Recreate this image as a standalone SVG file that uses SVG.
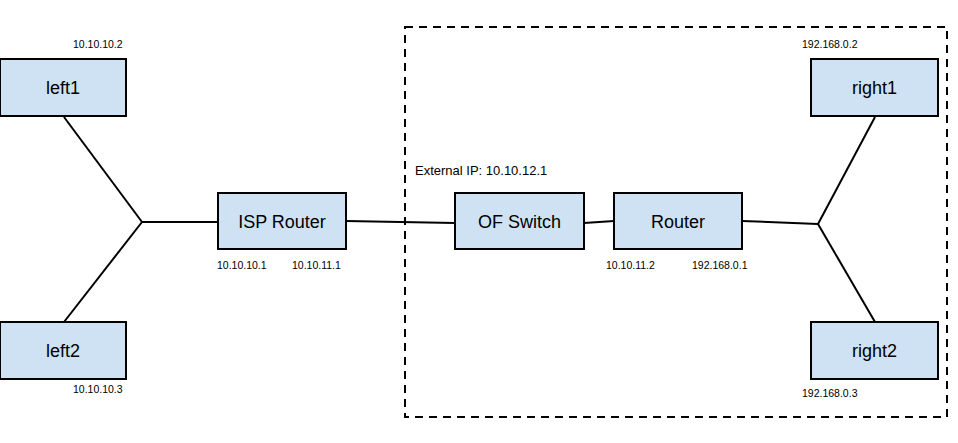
<svg xmlns="http://www.w3.org/2000/svg" width="958" height="443" viewBox="0 0 958 443">
<style>
.node{fill:#cfe2f3;stroke:#000;stroke-width:2}
.lbl{font-family:"Liberation Sans",Arial,sans-serif;font-size:18px;fill:#000;text-anchor:middle}
.ip{font-family:"Liberation Sans",Arial,sans-serif;font-size:10.5px;fill:#000}
.ext{font-family:"Liberation Sans",Arial,sans-serif;font-size:13px;fill:#000}
.conn line{stroke:#000;stroke-width:2}
</style>
<rect width="958" height="443" fill="#fff"/>
<rect x="405" y="27" width="542" height="390" fill="none" stroke="#000" stroke-width="2" stroke-dasharray="8,6"/>
<text class="ext" x="415" y="175">External IP: 10.10.12.1</text>
<g class="conn">
<line x1="64" y1="117" x2="142" y2="222"/>
<line x1="64" y1="322" x2="142" y2="222"/>
<line x1="142" y1="222" x2="218" y2="222"/>
<line x1="346" y1="221" x2="455" y2="223"/>
<line x1="584" y1="223" x2="614" y2="221"/>
<line x1="742" y1="221" x2="818" y2="224"/>
<line x1="875" y1="117" x2="818" y2="224"/>
<line x1="875" y1="322" x2="818" y2="224"/>
</g>
<g id="left1"><rect class="node" x="0" y="59" width="126" height="57"/><text class="lbl" x="63" y="94">left1</text><text class="ip" x="73" y="48">10.10.10.2</text></g>
<g id="left2"><rect class="node" x="0" y="322" width="126" height="57"/><text class="lbl" x="63" y="357">left2</text><text class="ip" x="73" y="393">10.10.10.3</text></g>
<g id="isp"><rect class="node" x="218" y="193" width="128" height="56"/><text class="lbl" x="282" y="228">ISP Router</text><text class="ip" x="217" y="269">10.10.10.1</text><text class="ip" x="292" y="269">10.10.11.1</text></g>
<g id="ofswitch"><rect class="node" x="455" y="193" width="129" height="56"/><text class="lbl" x="519.5" y="228">OF Switch</text></g>
<g id="router"><rect class="node" x="614" y="193" width="128" height="56"/><text class="lbl" x="678" y="228">Router</text><text class="ip" x="606" y="269">10.10.11.2</text><text class="ip" x="692" y="269">192.168.0.1</text></g>
<g id="right1"><rect class="node" x="811" y="59" width="127" height="57"/><text class="lbl" x="874.5" y="94">right1</text><text class="ip" x="802" y="48">192.168.0.2</text></g>
<g id="right2"><rect class="node" x="811" y="322" width="127" height="57"/><text class="lbl" x="874.5" y="357">right2</text><text class="ip" x="802" y="397">192.168.0.3</text></g>
</svg>
